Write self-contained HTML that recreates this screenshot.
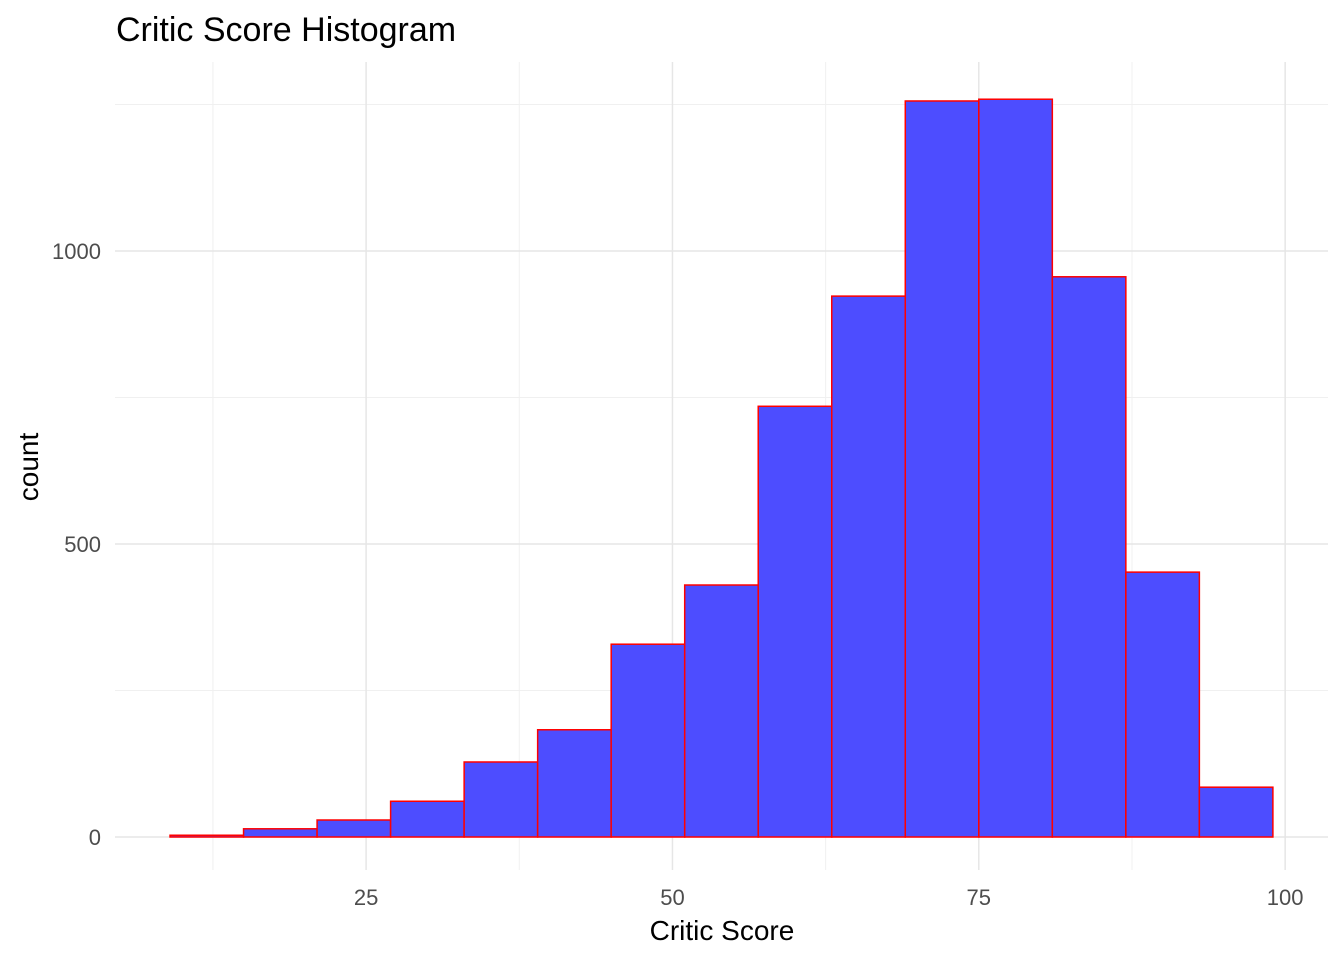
<!DOCTYPE html>
<html><head><meta charset="utf-8"><style>
body{margin:0;background:#fff;}
svg text{font-family:"Liberation Sans",Arial,sans-serif;}
</style></head><body>
<svg id="chart" width="1344" height="960" xmlns="http://www.w3.org/2000/svg">
<rect width="1344" height="960" fill="#fff"/>
<text x="116" y="41" font-size="34" fill="#000">Critic Score Histogram</text>
<g id="grid"></g>
<g id="bars"></g>
<g id="ticks"></g>
<text x="722" y="940" font-size="28" text-anchor="middle" fill="#000">Critic Score</text>
<text transform="translate(38,467) rotate(-90)" font-size="28" text-anchor="middle" fill="#000">count</text>
</svg>
<script>
const binStarts=[9,15,21,27,33,39,45,51,57,63,69,75,81,87,93];
const binWidth=6;
const counts=[3,14,29,61,128,183,329,430,735,923,1256,1259,956,452,85];
const xMajor=[25,50,75,100];
const xMinor=[12.5,37.5,62.5,87.5];
const yMajor=[0,500,1000];
const yMinor=[250,750,1250];
const NS="http://www.w3.org/2000/svg";
const X=v=>59.75+v*12.254;
const Y=v=>837-v*0.586;
const L=115,R=1328,T=62,B=870;
function mk(tag,attrs,parent){const e=document.createElementNS(NS,tag);for(const k in attrs)e.setAttribute(k,attrs[k]);parent.appendChild(e);return e;}
const grid=document.getElementById('grid'),bars=document.getElementById('bars'),ticks=document.getElementById('ticks');
xMinor.forEach(v=>{const l=mk('line',{x1:X(v),x2:X(v),y1:T,y2:B,stroke:'#f0f0f0','stroke-width':1},grid);

});
yMinor.forEach(v=>{const l=mk('line',{x1:L,x2:R,y1:Y(v),y2:Y(v),stroke:'#f0f0f0','stroke-width':1},grid);

});
xMajor.forEach(v=>{const l=mk('line',{x1:X(v),x2:X(v),y1:T,y2:B,stroke:'#e6e6e6','stroke-width':1.5},grid);


const t=mk('text',{x:X(v),y:905,'font-size':22,'text-anchor':'middle',fill:'#4d4d4d'},ticks);t.textContent=v;

});
yMajor.forEach(v=>{const l=mk('line',{x1:L,x2:R,y1:Y(v),y2:Y(v),stroke:'#e6e6e6','stroke-width':1.5},grid);


const t=mk('text',{x:101,y:Y(v)+8,'font-size':22,'text-anchor':'end',fill:'#4d4d4d'},ticks);t.textContent=v;

});
binStarts.forEach((s,i)=>{const x1=X(s),x2=X(s+binWidth),y=Y(counts[i]);
const r=mk('rect',{x:x1,y:y,width:x2-x1,height:Y(0)-y,fill:'#4d4dff',stroke:'#ff0000','stroke-width':1.5},bars);

});
</script>
</body></html>
